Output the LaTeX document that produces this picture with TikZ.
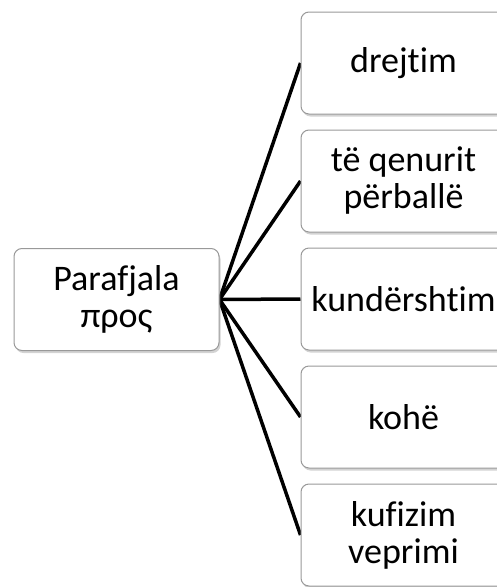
\documentclass[tikz,border=0pt]{standalone}
\usepackage{fontspec}
\setmainfont[Ligatures={NoCommon}]{Carlito}
\usetikzlibrary{shadows,backgrounds}
\begin{document}
\begin{tikzpicture}[x=1pt,y=-1pt,
  box/.style={draw=black!40, rounded corners=8pt, fill=white, minimum width=205pt, minimum height=102pt,
    align=center, inner sep=0pt, font=\fontsize{36}{37}\selectfont, line width=1pt,
    drop shadow={opacity=0.35, shadow xshift=1.5pt, shadow yshift=-2.5pt}},
  link/.style={line width=3.5pt, black}]
\useasboundingbox (0,0) rectangle (497,587);
\clip (0,0) rectangle (497,587);
\node[box] (p) at (116.5,299.5) {Parafjala\\προς};
\node[box] (r1) at (403.5,63) {drejtim};
\node[box] (r2) at (403.5,181) {të qenurit\\përballë};
\node[box] (r3) at (403.5,299) {kundërshtim};
\node[box] (r4) at (403.5,417) {kohë};
\node[box] (r5) at (403.5,535) {kufizim\\veprimi};
\begin{scope}[on background layer]
\foreach \n in {r1,r2,r3,r4,r5}{\draw[link] (p.east) -- (\n.west);}
\end{scope}
\end{tikzpicture}
\end{document}
